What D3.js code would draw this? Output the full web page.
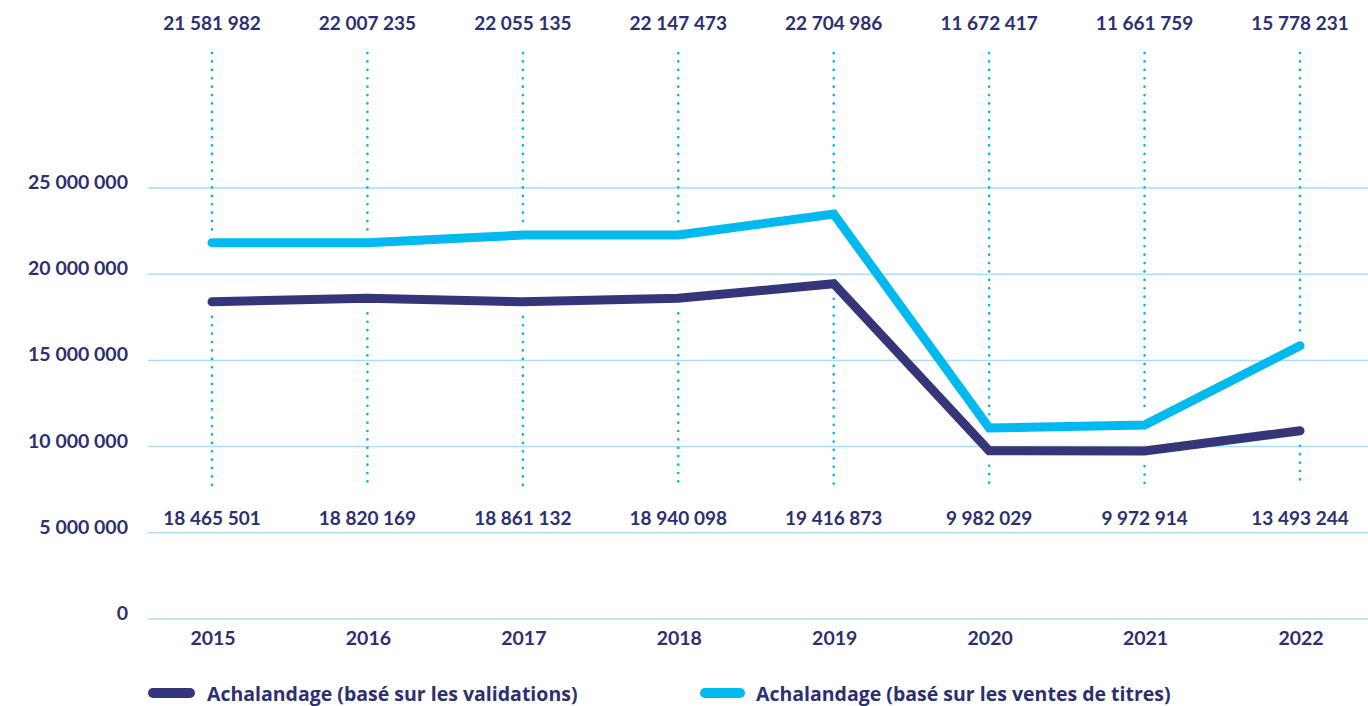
<!DOCTYPE html>
<html>
<head>
<meta charset="utf-8">
<script src="https://cdn.jsdelivr.net/npm/d3@7"></script>
<style>
  body { margin: 0; background: #fff; }
  text { font-family: Lato, "Open Sans", sans-serif; fill: #2d306e; font-weight: 700; }
  text.leg { font-family: "Open Sans", sans-serif; font-weight: 700; }
</style>
</head>
<body>
<div id="chart"></div>
<script>
// data
var years = ["2015", "2016", "2017", "2018", "2019", "2020", "2021", "2022"];
var ventes = [21.83e6, 21.83e6, 22.27e6, 22.27e6, 23.49e6, 11.08e6, 11.25e6, 15.85e6];
var validations = [18.40e6, 18.60e6, 18.40e6, 18.60e6, 19.45e6, 9.76e6, 9.74e6, 10.92e6];
var ventesLabels = ["21 581 982", "22 007 235", "22 055 135", "22 147 473", "22 704 986", "11 672 417", "11 661 759", "15 778 231"];
var validLabels = ["18 465 501", "18 820 169", "18 861 132", "18 940 098", "19 416 873", "9 982 029", "9 972 914", "13 493 244"];
var yTicks = [0, 5000000, 10000000, 15000000, 20000000, 25000000];
var legendNames = ["Achalandage (basé sur les validations)", "Achalandage (basé sur les ventes de titres)"];

function init() {
    var w = 1368;
    var h = 706;
    var dark = "#35367a";
    var light = "#00b9ef";

    var xScale = d3.scalePoint()
        .domain(years)
        .range([212, 1300]);

    var yScale = d3.scaleLinear()
        .domain([0, 25000000])
        .range([619, 188]);

    var svg = d3.select("#chart")
        .append("svg")
        .attr("width", w)
        .attr("height", h);

    // gridlines
    svg.selectAll(".grid")
        .data(yTicks)
        .enter().append("line")
        .attr("x1", 148)
        .attr("x2", w)
        .attr("y1", function(d) { return yScale(d); })
        .attr("y2", function(d) { return yScale(d); })
        .attr("stroke", "#a9def6")
        .attr("stroke-width", 1.5);

    var fmt = function(d) { return d3.format(",")(d).replace(/,/g, " "); };

    svg.selectAll(".ylab")
        .data(yTicks)
        .enter().append("text")
        .attr("x", 128)
        .attr("y", function(d) { return yScale(d) + 1; })
        .attr("text-anchor", "end")
        .style("font-size", "19.5px")
        .text(fmt);

    // dotted vertical guides, broken around the lines
    years.forEach(function(yr, i) {
        var x = xScale(yr);
        svg.append("line")
            .attr("x1", x).attr("x2", x)
            .attr("y1", 53).attr("y2", yScale(ventes[i]) - 11)
            .attr("stroke", "#00b5ec")
            .attr("stroke-width", 2.6)
            .attr("stroke-linecap", "round")
            .attr("stroke-dasharray", "0.1,8.3");
        svg.append("line")
            .attr("x1", x).attr("x2", x)
            .attr("y1", yScale(validations[i]) + 15).attr("y2", 487)
            .attr("stroke", "#00b5ec")
            .attr("stroke-width", 2.6)
            .attr("stroke-linecap", "round")
            .attr("stroke-dasharray", "0.1,8.3");
    });

    var line = d3.line()
        .x(function(d, i) { return xScale(years[i]); })
        .y(function(d) { return yScale(d); });

    svg.append("path")
        .datum(validations)
        .attr("d", line)
        .attr("fill", "none")
        .attr("stroke", dark)
        .attr("stroke-width", 9)
        .attr("stroke-linecap", "round");

    svg.append("path")
        .datum(ventes)
        .attr("d", line)
        .attr("fill", "none")
        .attr("stroke", light)
        .attr("stroke-width", 9)
        .attr("stroke-linecap", "round");

    // value labels
    svg.selectAll(".top")
        .data(ventesLabels)
        .enter().append("text")
        .attr("x", function(d, i) { return xScale(years[i]); })
        .attr("y", 30)
        .attr("text-anchor", "middle")
        .style("font-size", "19px")
        .text(function(d) { return d; });

    svg.selectAll(".bot")
        .data(validLabels)
        .enter().append("text")
        .attr("x", function(d, i) { return xScale(years[i]); })
        .attr("y", 525)
        .attr("text-anchor", "middle")
        .style("font-size", "19px")
        .text(function(d) { return d; });

    // x axis labels
    svg.selectAll(".xlab")
        .data(years)
        .enter().append("text")
        .attr("x", function(d) { return xScale(d) + 1; })
        .attr("y", 645)
        .attr("text-anchor", "middle")
        .style("font-size", "19.5px")
        .text(function(d) { return d; });

    // legend
    var legend = [
        { name: legendNames[0], color: dark, x1: 153, x2: 190, tx: 207 },
        { name: legendNames[1], color: light, x1: 705, x2: 740, tx: 756 }
    ];
    legend.forEach(function(l) {
        svg.append("line")
            .attr("x1", l.x1).attr("x2", l.x2)
            .attr("y1", 693).attr("y2", 693)
            .attr("stroke", l.color)
            .attr("stroke-width", 10)
            .attr("stroke-linecap", "round");
        svg.append("text")
            .attr("class", "leg")
            .attr("x", l.tx)
            .attr("y", 701)
            .style("font-size", "19.5px")
            .text(l.name);
    });
}

window.onload = init
</script>
</body>
</html>
